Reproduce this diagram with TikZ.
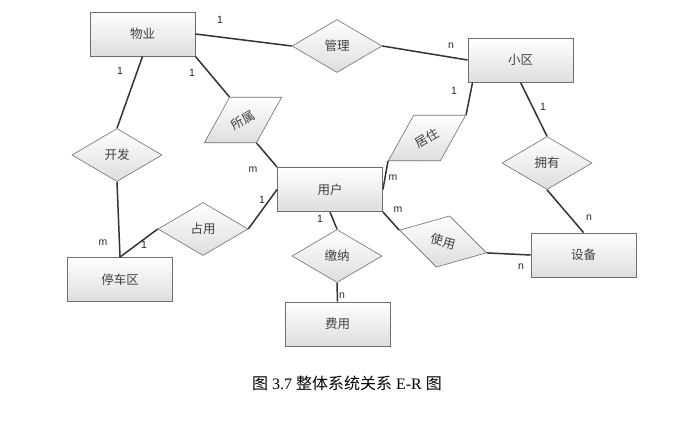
\documentclass[tikz,border=0pt]{standalone}
\usepackage{fontspec}
\setmainfont{Liberation Serif}
\newfontfamily\cjk{Noto Sans CJK SC}
\newfontfamily\labfont{Liberation Sans}
\usetikzlibrary{shapes.geometric}
\definecolor{edgegray}{HTML}{6E6E6E}
\definecolor{linegray}{HTML}{333333}
\definecolor{txtgray}{HTML}{404040}
\tikzset{
  ent/.style={draw=edgegray, line width=0.9pt, top color=white, bottom color=black!13,
    minimum width=105pt, minimum height=44pt, inner sep=0pt,
    font=\cjk\fontsize{12.5}{14}\selectfont, text=txtgray},
  rel/.style={diamond, draw=edgegray, line width=0.6pt, top color=white, bottom color=black!13,
    minimum width=90pt, minimum height=53pt, inner sep=0pt,
    font=\cjk\fontsize{12.5}{14}\selectfont, text=txtgray},
  conn/.style={draw=linegray, line width=1.5pt},
  card/.style={font=\labfont\fontsize{10.5}{12}\selectfont, inner sep=0pt, text=black!85}
}
\begin{document}
\begin{tikzpicture}[x=1pt,y=-1pt]
\useasboundingbox (0,0) rectangle (684,429);
% entities
\node[ent] (wuye)    at (142.5,34)  {物业};
\node[ent] (xiaoqu)  at (520.5,60)  {小区};
\node[ent] (yonghu)  at (330,189.5) {用户};
\node[ent] (tingche) at (120,279.5) {停车区};
\node[ent] (feiyong) at (337.5,324) {费用};
\node[ent] (shebei)  at (583.5,255) {设备};
% relationships
\node[rel] (guanli) at (337,46)  {管理};
\node[rel] (yongyou) at (547,163) {拥有};
\node[rel] (kaifa)  at (117,155) {开发};
\node[rel] (zhanyong) at (203,229) {占用};
\node[rel] (jiaona) at (337,256) {缴纳};
\node[rel, rotate=30.5] (shushu) at (243,120) {所属};
\node[rel, rotate=30.5] (juzhu)  at (427,138) {居住};
\node[rel, rotate=-14.6] (shiyong) at (443,241.5) {使用};
% connectors
\draw[conn] (wuye.east) -- (guanli.west);
\draw[conn] (guanli.east) -- (xiaoqu.west);
\draw[conn] (wuye.south) -- (kaifa.north);
\draw[conn] (wuye.south east) -- (shushu.north);
\draw[conn] (shushu.south) -- (yonghu.north west);
\draw[conn] (kaifa.south) -- (tingche.north);
\draw[conn] (tingche.north) -- (zhanyong.west);
\draw[conn] (zhanyong.east) -- (yonghu.west);
\draw[conn] (yonghu.south) -- (jiaona.north);
\draw[conn] (jiaona.south) -- (feiyong.north);
\draw[conn] (juzhu.west) -- (yonghu.east);
\draw[conn] (juzhu.east) -- ([xshift=5pt]xiaoqu.south west);
\draw[conn] (xiaoqu.south) -- (yongyou.north);
\draw[conn] (yongyou.south) -- (shebei.north);
\draw[conn] (yonghu.south east) -- (shiyong.west);
\draw[conn] (shiyong.east) -- (shebei.west);
% cardinalities
\node[card] (c1)  at (220,20)  {1};
\node[card] (c2)  at (451,46)  {n};
\node[card] (c3)  at (120,71)  {1};
\node[card] (c4)  at (192,73)  {1};
\node[card] (c5)  at (253,170) {m};
\node[card] (c6)  at (103,243) {m};
\node[card] (c7)  at (144,245) {1};
\node[card] (c8)  at (262,200) {1};
\node[card] (c9)  at (320,219) {1};
\node[card] (c10) at (342,296) {n};
\node[card] (c11) at (393,178) {m};
\node[card] (c12) at (454,91)  {1};
\node[card] (c13) at (543,107) {1};
\node[card] (c14) at (589,218) {n};
\node[card] (c15) at (398,210) {m};
\node[card] (c16) at (521,267) {n};
% caption
\node[inner sep=0pt, font=\fontsize{16}{18}\selectfont] (cap) at (347,383)
  {{\cjk 图} 3.7 {\cjk 整体系统关系} E-R {\cjk 图}};
\end{tikzpicture}
\end{document}
